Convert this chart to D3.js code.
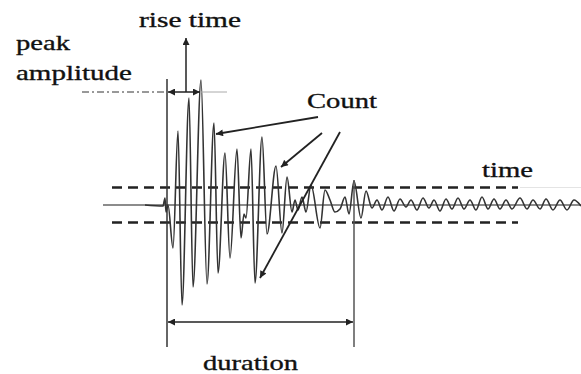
<!DOCTYPE html>
<html>
<head>
<meta charset="utf-8">
<script src="https://cdn.jsdelivr.net/npm/d3@7"></script>
<style>
  body { margin: 0; background: #fff; }
  svg { display: block; }
  text { font-family: "Liberation Serif", "Times New Roman", serif; fill: #111; stroke: #111; stroke-width: 0.35; }
</style>
</head>
<body>
<svg id="chart" width="581" height="374"></svg>
<script>
// waveform turning points: time (trigger = 0) and amplitude
const waveTime = [-22, -4, -2, -1, 1, 6, 11, 15, 22, 26, 34, 40, 47, 51, 58, 63, 70, 74, 77, 79,
  84, 88, 95, 100, 109, 115, 120, 125, 128, 131, 135, 139, 144, 153, 158, 163, 168, 173, 178, 182,
  187, 194, 199, 205, 210, 215, 221, 227, 233, 239, 244, 250, 256, 262, 267, 273, 279, 285, 291, 297,
  303, 309, 315, 321, 327, 333, 339, 345, 353, 360, 366, 373, 379, 386, 393, 400, 407, 414];
const waveAmp = [0, -1, 7, -7, 0, -43, 74, -100, 107, -82, 125, -79, 82, -68, 52, -53, 56, -33, -9, -13,
  56, -78, 68, -29, 39, -28, 28, -7, 5, -5, 8, -7, 20, -23, 15, 5, -7, -4, 8, -9,
  24, -13, 14, -3, 5, -5, 8, -6, 6, -2, 5, -5, 7, -3, 5, -6, 6, -4, 7, -4,
  5, -5, 8, -4, 6, -4, 5, -4, 7, -4, 5, -4, 6, -5, 5, -5, 5, -1];

const threshold = 17.5;
const peakTime = 34;
const peakLevel = 113;
const durationEnd = 187;
const countTails = [[151, 88], [155, 72], [173, 73]];
const countHeads = [[49, 71], [114, 38], [93, -73]];

const svg = d3.select('#chart');
const x = d3.scaleLinear().domain([0, 414]).range([167, 581]);
const y = d3.scaleLinear().domain([-150, 150]).range([355, 55]);

const defs = svg.append('defs');
const marker = (id, orient) => defs.append('marker')
  .attr('id', id)
  .attr('viewBox', '0 0 10 10')
  .attr('refX', 10).attr('refY', 5)
  .attr('markerWidth', 9).attr('markerHeight', 7)
  .attr('markerUnits', 'userSpaceOnUse')
  .attr('orient', orient)
  .append('path')
  .attr('d', 'M0,0L10,5L0,10Z')
  .attr('fill', '#222');
marker('head', 'auto');
marker('both', 'auto-start-reverse');

// time axis
svg.append('line')
  .attr('x1', x(-64)).attr('x2', x(414))
  .attr('y1', y(0)).attr('y2', y(0))
  .attr('stroke', '#666').attr('stroke-width', 1.4);

// threshold lines
[threshold, -threshold].forEach(t => {
  svg.append('line')
    .attr('x1', x(-55)).attr('x2', x(351))
    .attr('y1', y(t)).attr('y2', y(t))
    .attr('stroke', '#222').attr('stroke-width', 2.5)
    .attr('stroke-dasharray', '10,6');
});
svg.append('line')
  .attr('x1', x(353)).attr('x2', x(414))
  .attr('y1', y(threshold)).attr('y2', y(threshold))
  .attr('stroke', '#e4e4e4').attr('stroke-width', 1);

// waveform
const line = d3.line().x(d => x(d[0])).y(d => y(d[1])).curve(d3.curveMonotoneX);
svg.append('path')
  .datum(d3.zip(waveTime, waveAmp))
  .attr('d', line)
  .attr('fill', 'none')
  .attr('stroke', '#333')
  .attr('stroke-width', 1.6)
  .attr('stroke-linejoin', 'round');

// duration boundaries
svg.append('line')
  .attr('x1', x(0)).attr('x2', x(0))
  .attr('y1', y(126)).attr('y2', y(-142))
  .attr('stroke', '#333').attr('stroke-width', 1.5);
svg.append('line')
  .attr('x1', x(durationEnd)).attr('x2', x(durationEnd))
  .attr('y1', y(25)).attr('y2', y(-142))
  .attr('stroke', '#555').attr('stroke-width', 1.5);
svg.append('line')
  .attr('x1', x(0) + 1).attr('x2', x(durationEnd) - 1)
  .attr('y1', y(-117)).attr('y2', y(-117))
  .attr('stroke', '#222').attr('stroke-width', 1.5)
  .attr('marker-start', 'url(#both)').attr('marker-end', 'url(#both)');

// peak amplitude level
svg.append('line')
  .attr('x1', x(-85)).attr('x2', x(0))
  .attr('y1', y(peakLevel)).attr('y2', y(peakLevel))
  .attr('stroke', '#333').attr('stroke-width', 1)
  .attr('stroke-dasharray', '7,3,2,3');
svg.append('line')
  .attr('x1', x(peakTime)).attr('x2', x(60))
  .attr('y1', y(peakLevel)).attr('y2', y(peakLevel))
  .attr('stroke', '#aaa').attr('stroke-width', 1);

// rise time
svg.append('line')
  .attr('x1', x(0) + 1).attr('x2', x(peakTime) - 1)
  .attr('y1', y(peakLevel)).attr('y2', y(peakLevel))
  .attr('stroke', '#222').attr('stroke-width', 1.5)
  .attr('marker-start', 'url(#both)').attr('marker-end', 'url(#both)');
svg.append('line')
  .attr('x1', x(19)).attr('x2', x(19))
  .attr('y1', y(peakLevel)).attr('y2', y(167))
  .attr('stroke', '#222').attr('stroke-width', 1.5)
  .attr('marker-end', 'url(#head)');

// count arrows
svg.selectAll('.count')
  .data(d3.zip(countTails, countHeads))
  .join('line')
  .attr('class', 'count')
  .attr('x1', d => x(d[0][0])).attr('y1', d => y(d[0][1]))
  .attr('x2', d => x(d[1][0])).attr('y2', d => y(d[1][1]))
  .attr('stroke', '#222').attr('stroke-width', 1.8)
  .attr('marker-end', 'url(#head)');

// labels
const labels = [
  { text: 'rise time', x: 139, y: 27, w: 102 },
  { text: 'peak', x: 16, y: 50, w: 54 },
  { text: 'amplitude', x: 16, y: 80, w: 116 },
  { text: 'Count', x: 307, y: 108, w: 70 },
  { text: 'time', x: 482, y: 177, w: 51 },
  { text: 'duration', x: 203, y: 370, w: 95 },
];
svg.selectAll('.label')
  .data(labels)
  .join('text')
  .attr('class', 'label')
  .attr('x', d => d.x).attr('y', d => d.y)
  .attr('font-size', 22)
  .attr('textLength', d => d.w)
  .attr('lengthAdjust', 'spacingAndGlyphs')
  .text(d => d.text);
</script>
</body>
</html>
